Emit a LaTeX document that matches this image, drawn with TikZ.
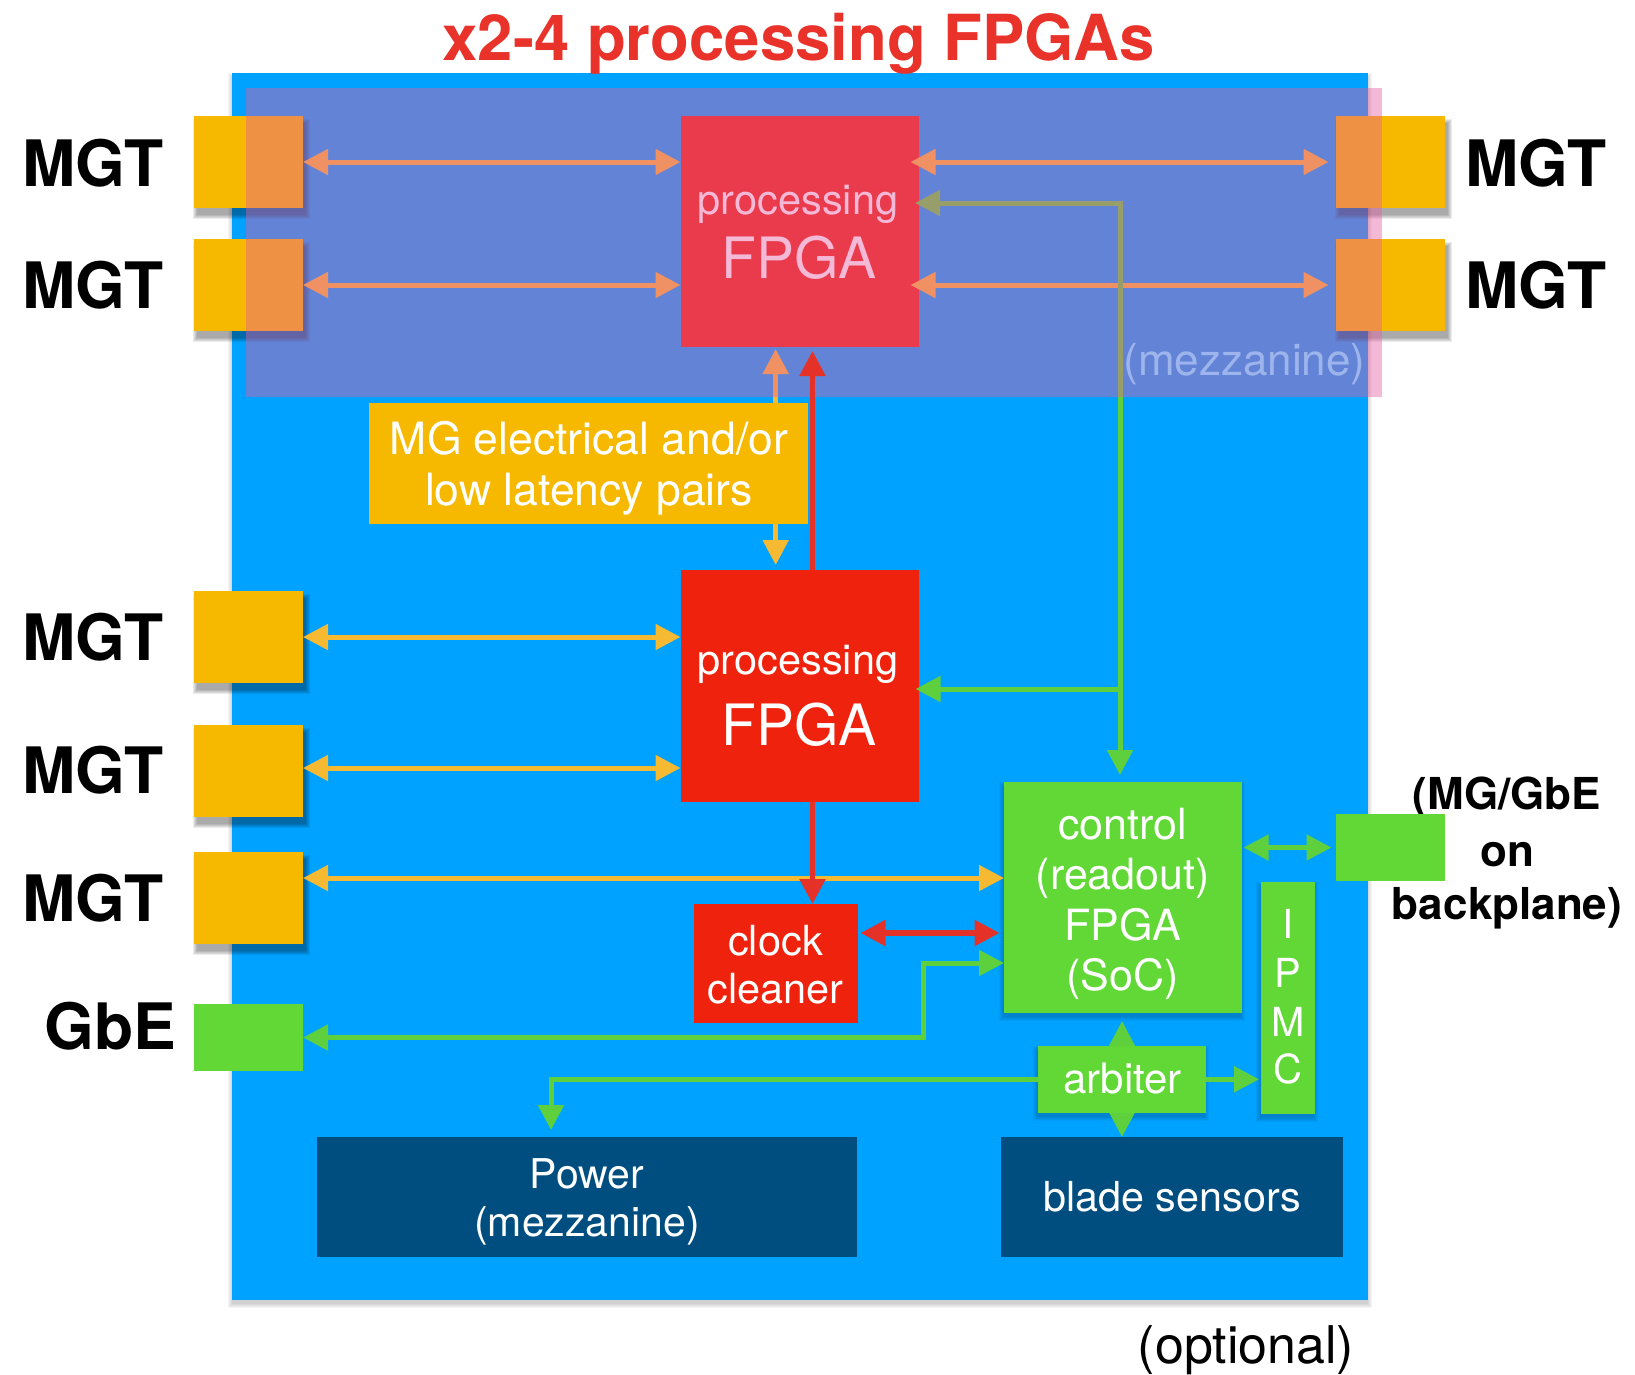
\documentclass[tikz,border=0pt]{standalone}
\usepackage{fontspec}
\setmainfont{TeX Gyre Heros}
\usetikzlibrary{arrows.meta}

\definecolor{boardblue}{RGB}{0,162,255}
\definecolor{mgtyellow}{RGB}{246,185,0}
\definecolor{linkyellow}{RGB}{246,185,50}
\definecolor{fpgared}{RGB}{238,34,13}
\definecolor{linkred}{RGB}{229,50,40}
\definecolor{socgreen}{RGB}{97,216,54}
\definecolor{linkgreen}{RGB}{94,208,62}
\definecolor{navy}{RGB}{0,77,128}
\definecolor{veilpink}{RGB}{230,93,162}
\definecolor{titlered}{RGB}{232,50,42}
\definecolor{veiltext}{RGB}{158,180,236}

\pgfdeclarelayer{boardlayer}
\pgfdeclarelayer{shade}
\pgfdeclarelayer{links}
\pgfdeclarelayer{upper}
\pgfdeclarelayer{veil}
\pgfdeclarelayer{front}
\pgfsetlayers{boardlayer,shade,links,main,upper,veil,front}

\tikzset{
  blk/.style={rectangle, inner sep=0pt, outer sep=0pt, draw=none},
  mgtbox/.style={blk, fill=mgtyellow, minimum width=109pt, minimum height=92pt},
  txt/.style={anchor=base, inner sep=0pt, outer sep=0pt},
  side/.style={txt, text=black, font=\fontsize{64}{70}\selectfont\bfseries},
  boxtxt/.style={txt, text=white, font=\fontsize{#1}{#1}\selectfont},
  ylink/.style={draw=linkyellow, line width=5pt},
  glink/.style={draw=linkgreen, line width=5pt},
  rlink/.style={draw=linkred, line width=5.5pt},
}

% soft drop shadow: stacked translucent rectangles behind a node
% #1 node, #2 x offset, #3 y offset (downwards), #4 opacity per step
\newcommand{\softdrop}[4]{%
  \foreach \r in {0,1,...,4}{%
    \fill[black, opacity=#4]
      ([xshift=#2pt-\r pt, yshift=-#3pt+\r pt]#1.north west)
      rectangle ([xshift=#2pt+\r pt, yshift=-#3pt-\r pt]#1.south east);
  }%
}

\begin{document}
\begin{tikzpicture}[x=1pt, y=-1pt, >={Triangle[length=25pt,width=25pt]}]
\useasboundingbox (0,0) rectangle (1635,1374);

% ---------- title ----------
\node[txt, text=titlered, font=\fontsize{63.5}{70}\selectfont\bfseries] (title) at (798.5,60.7) {x2-4 processing FPGAs};

% ---------- side connectors ----------
\node[mgtbox] (mgtL1) at (248.5,162) {};
\node[mgtbox] (mgtL2) at (248.5,285) {};
\node[mgtbox] (mgtR1) at (1390,162) {};
\node[mgtbox] (mgtR2) at (1390,285) {};
\node[mgtbox] (mgtL3) at (248.5,637) {};
\node[mgtbox] (mgtL4) at (248.5,771) {};
\node[mgtbox] (mgtL5) at (248.5,898) {};
\node[blk, fill=socgreen, minimum width=109pt, minimum height=67pt] (gbe) at (248.5,1037.5) {};

\node[side] (lblL1) at (93,186) {MGT};
\node[side] (lblL2) at (93,308.3) {MGT};
\node[side] (lblR1) at (1536,186) {MGT};
\node[side] (lblR2) at (1536,308.3) {MGT};
\node[side] (lblL3) at (93,660.5) {MGT};
\node[side] (lblL4) at (93,793.6) {MGT};
\node[side] (lblL5) at (93,921.4) {MGT};
\node[side] (lblGbE) at (110,1049) {GbE};

% backplane link label, partly covered by its connector
\node[txt, font=\fontsize{44}{48}\selectfont\bfseries] (bpl1) at (1507,809) {(MG/GbE};
\node[txt, font=\fontsize{44}{48}\selectfont\bfseries] (bpl2) at (1507,866) {on};
\node[txt, font=\fontsize{44}{48}\selectfont\bfseries] (bpl3) at (1507,919) {backplane)};
\node[blk, fill=socgreen, minimum width=109pt, minimum height=67pt] (bp) at (1390.5,847.5) {};

% ---------- processing FPGAs ----------
\node[blk, fill=fpgared, minimum width=238pt, minimum height=231pt] (tfpga) at (799.5,231.5) {};
\node[boxtxt=41.5] (tfpga1) at (798,214) {processing};
\node[boxtxt=57] (tfpga2) at (799,278.3) {FPGA};

\node[blk, fill=fpgared, minimum width=238pt, minimum height=232pt] (bfpga) at (799.5,686) {};
\node[boxtxt=41.5] (bfpga1) at (798,674) {processing};
\node[boxtxt=57] (bfpga2) at (799,745.7) {FPGA};

\node[blk, fill=mgtyellow, minimum width=439pt, minimum height=121pt] (mg) at (588.2,463.8) {};
\node[boxtxt=44.5] (mg1) at (589,454.3) {MG electrical and/or};
\node[boxtxt=44.5] (mg2) at (589,505) {low latency pairs};

% ---------- control section ----------
\node[blk, fill=fpgared, minimum width=164pt, minimum height=119pt] (clock) at (775.5,963.5) {};
\node[boxtxt=41.5] (clock1) at (775.5,955) {clock};
\node[boxtxt=41.5] (clock2) at (775.5,1003.3) {cleaner};

\node[blk, fill=socgreen, minimum width=237.5pt, minimum height=231pt] (ctrl) at (1122.75,897.5) {};
\node[boxtxt=43] (ctrl1) at (1122.75,839) {control};
\node[boxtxt=43] (ctrl2) at (1122.75,889.5) {(readout)};
\node[boxtxt=43] (ctrl3) at (1122.75,940) {FPGA};
\node[boxtxt=43] (ctrl4) at (1122.75,990) {(SoC)};

\node[blk, fill=socgreen, minimum width=53.7pt, minimum height=231.5pt] (ipmc) at (1287.9,997.75) {};
\node[boxtxt=40] (ipmc1) at (1288,938.3) {I};
\node[boxtxt=40] (ipmc2) at (1288,987.7) {P};
\node[boxtxt=40] (ipmc3) at (1288,1036) {M};
\node[boxtxt=40] (ipmc4) at (1288,1083.3) {C};

\node[blk, fill=socgreen, minimum width=168pt, minimum height=66.7pt] (arb) at (1122,1079.3) {};
\node[boxtxt=42] (arb1) at (1122.5,1093.3) {arbiter};

\node[blk, fill=navy, minimum width=540pt, minimum height=120pt] (power) at (587,1197) {};
\node[boxtxt=41] (power1) at (587,1188.3) {Power};
\node[boxtxt=41] (power2) at (587,1236.7) {(mezzanine)};

\node[blk, fill=navy, minimum width=342.4pt, minimum height=120pt] (blade) at (1171.8,1197) {};
\node[boxtxt=41.3] (blade1) at (1172,1211.7) {blade sensors};

\node[txt, text=black, font=\fontsize{52}{56}\selectfont] (optional) at (1246,1363.3) {(optional)};

% ---------- board and shadows ----------
\begin{pgfonlayer}{boardlayer}
  \coordinate (boardc) at (800,686.5);
  \node[blk, minimum width=1136pt, minimum height=1227pt] (boardshape) at (boardc) {};
  \softdrop{boardshape}{0}{4}{0.04}
  \node[blk, fill=boardblue, minimum width=1136pt, minimum height=1227pt] (board) at (boardc) {};
\end{pgfonlayer}
\begin{pgfonlayer}{shade}
  \foreach \n in {mgtL1,mgtL2,mgtR1,mgtR2,mgtL3,mgtL4,mgtL5}{\softdrop{\n}{3}{7}{0.08}}
  \foreach \n in {ctrl,ipmc,arb}{\softdrop{\n}{-1}{4}{0.04}}
\end{pgfonlayer}

% ---------- routing points ----------
\coordinate (mgx) at (775.7,0);
\coordinate (rx) at (812.5,0);
\coordinate (l4y) at (0,768);
\coordinate (l5y) at (0,878);
\coordinate (rcy) at (0,933);
\coordinate (gcorner) at (923,963);
\coordinate (gtop) at (1120,203);
\coordinate (gmid) at (1120,689);
\coordinate (pwx) at (551,0);

% ---------- links ----------
\begin{pgfonlayer}{links}
  \draw[ylink,<->] (mgtL1.east) -- (tfpga.west |- mgtL1.east);
  \draw[ylink,<->] (mgtL2.east) -- (tfpga.west |- mgtL2.east);
  \draw[ylink,<->] (mgtL3.east) -- (bfpga.west |- mgtL3.east);
  \draw[ylink,<->] (mgtL4.east |- l4y) -- (bfpga.west |- l4y);
  \draw[ylink,<->] (mgtL5.east |- l5y) -- (ctrl.west |- l5y);
  \draw[ylink,<->, shorten <=2pt, shorten >=5pt] (mgx |- tfpga.south) -- (mgx |- bfpga.north);
  \draw[rlink,->] (rx |- bfpga.south) -- (rx |- clock.north);
  \draw[rlink,<->, shorten <=3pt, shorten >=4.5pt] (clock.east |- rcy) -- (ctrl.west |- rcy);
  \draw[glink,<->] (gbe.east) -| (gcorner) -- (ctrl.west |- gcorner);
  \draw[glink,<->, shorten <=2pt, shorten >=4.5pt] (ctrl.east |- bp.west) -- (bp.west);
  \draw[glink,<->, shorten <=8pt] (arb.center |- ctrl.south) -- (arb.center |- blade.north);
  \draw[glink,->, shorten >=2pt] (arb.east) -- (ipmc.west |- arb.east);
  \draw[glink,->, shorten >=7pt] (arb.west) -| (pwx |- power.north);
\end{pgfonlayer}

\begin{pgfonlayer}{upper}
  \draw[ylink,<->, shorten <=-8pt, shorten >=7pt] (tfpga.east |- mgtR1.west) -- (mgtR1.west);
  \draw[ylink,<->, shorten <=-8pt, shorten >=7pt] (tfpga.east |- mgtR2.west) -- (mgtR2.west);
  \draw[glink,<->, shorten <=-3.5pt, shorten >=7pt] (tfpga.east |- gtop) -- (gtop) -- (gtop |- ctrl.north);
  \draw[glink,->, shorten >=-3pt] (gmid) -- (bfpga.east |- gmid);
\end{pgfonlayer}

% ---------- mezzanine veil ----------
\begin{pgfonlayer}{veil}
  \node[blk, fill=veilpink, fill opacity=0.43, minimum width=1136pt, minimum height=309pt] (veil) at (814,242.5) {};
\end{pgfonlayer}

\begin{pgfonlayer}{front}
  \draw[rlink,->, shorten >=4pt] (rx |- bfpga.north) -- (rx |- tfpga.south);
  \node[txt, text=veiltext, font=\fontsize{44}{48}\selectfont] (mezzlbl) at (1244.5,375) {(mezzanine)};
\end{pgfonlayer}
\end{tikzpicture}
\end{document}
